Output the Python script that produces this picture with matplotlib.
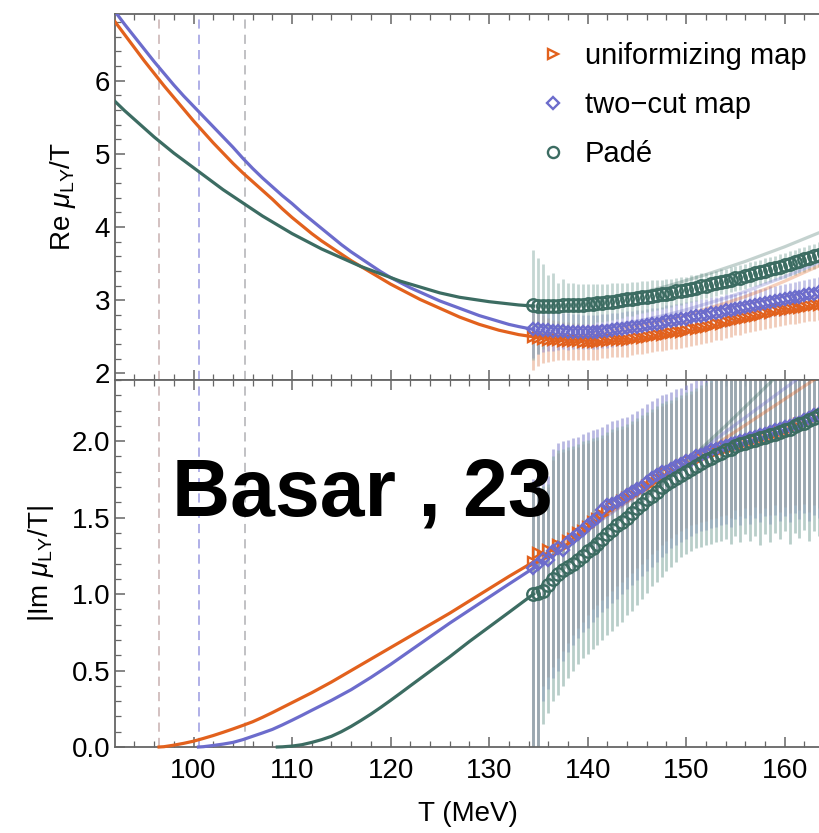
import numpy as np
import matplotlib
matplotlib.use("Agg")
import matplotlib.pyplot as plt
from matplotlib.ticker import MultipleLocator
from matplotlib.lines import Line2D

plt.rcParams['font.family'] = ['Liberation Sans', 'DejaVu Sans']
plt.rcParams['mathtext.fontset'] = 'custom'
plt.rcParams['mathtext.rm'] = 'Liberation Sans'
plt.rcParams['mathtext.it'] = 'Liberation Sans:italic'

# ---------------- data ----------------
# smooth curves (below the data region)
T_re_curve = [92.0, 93, 94, 95, 96, 97, 98, 99, 100, 101, 102, 103, 104, 105, 106, 107, 108, 109, 110,
              111, 112, 113, 114, 115, 116, 117, 118, 119, 120, 121, 122, 123, 124, 125, 126, 127, 128,
              129, 130, 131, 132, 133, 134.5]
re_unif_curve = [6.81, 6.63, 6.45, 6.27, 6.10, 5.93, 5.77, 5.61, 5.45, 5.30, 5.15, 5.01, 4.87, 4.74, 4.62,
                 4.50, 4.38, 4.25, 4.13, 4.02, 3.91, 3.81, 3.72, 3.63, 3.54, 3.46, 3.38, 3.30, 3.22, 3.15,
                 3.08, 3.01, 2.95, 2.89, 2.83, 2.77, 2.72, 2.67, 2.63, 2.59, 2.56, 2.53, 2.50]
re_twocut_curve = [6.95, 6.77, 6.60, 6.43, 6.26, 6.10, 5.94, 5.79, 5.65, 5.51, 5.37, 5.23, 5.09, 4.94, 4.80,
                   4.67, 4.55, 4.43, 4.32, 4.20, 4.09, 3.98, 3.87, 3.76, 3.66, 3.57, 3.48, 3.39, 3.31, 3.24,
                   3.17, 3.11, 3.05, 2.99, 2.94, 2.89, 2.84, 2.79, 2.75, 2.71, 2.67, 2.64, 2.60]
re_pade_curve = [5.72, 5.59, 5.47, 5.35, 5.23, 5.12, 5.01, 4.91, 4.81, 4.71, 4.61, 4.51, 4.42, 4.33, 4.24,
                 4.15, 4.07, 3.99, 3.91, 3.84, 3.77, 3.70, 3.64, 3.58, 3.52, 3.46, 3.41, 3.36, 3.31, 3.26,
                 3.22, 3.18, 3.14, 3.10, 3.07, 3.04, 3.02, 3.00, 2.98, 2.965, 2.95, 2.935, 2.92]

T_im_unif = [96.5, 97, 98, 99, 100, 101, 102, 103, 104, 105, 106, 107, 108, 110, 112, 114, 116, 118, 120,
             122, 124, 126, 128, 130, 132, 134.5]
im_unif_curve = [0.0, 0.002, 0.012, 0.024, 0.038, 0.056, 0.075, 0.096, 0.118, 0.141, 0.165, 0.194, 0.225,
                 0.29, 0.355, 0.425, 0.50, 0.575, 0.65, 0.725, 0.80, 0.875, 0.955, 1.035, 1.115, 1.21]
T_im_twocut = [100.5, 101, 102, 103, 104, 105, 106, 107, 108, 109, 110, 111, 112, 114, 116, 118, 120, 122,
               124, 126, 128, 130, 132, 134.5]
im_twocut_curve = [0.0, 0.002, 0.01, 0.019, 0.03, 0.048, 0.07, 0.092, 0.115, 0.144, 0.175, 0.207, 0.24,
                   0.305, 0.375, 0.455, 0.54, 0.63, 0.72, 0.81, 0.895, 0.98, 1.065, 1.17]
T_im_pade = [108.5, 109, 110, 111, 112, 113, 114, 115, 116, 117, 118, 119, 120, 121, 122, 124, 126, 128,
             130, 132, 134.5]
im_pade_curve = [0.0, 0.001, 0.006, 0.015, 0.03, 0.048, 0.07, 0.10, 0.135, 0.174, 0.215, 0.259, 0.305,
                 0.352, 0.40, 0.495, 0.59, 0.69, 0.785, 0.88, 1.0]

# faint continuations of the curves
T_ext = [134.5, 136, 138, 140, 142, 144, 146, 148, 150, 152, 154, 156, 158, 160, 162, 164]
re_unif_ext = [2.50, 2.49, 2.50, 2.53, 2.57, 2.62, 2.67, 2.73, 2.80, 2.88, 2.96, 3.05, 3.15, 3.26, 3.38, 3.50]
re_twocut_ext = [2.60, 2.59, 2.60, 2.62, 2.65, 2.69, 2.74, 2.80, 2.87, 2.95, 3.03, 3.12, 3.22, 3.32, 3.43, 3.55]
re_pade_ext = [2.92, 2.92, 2.94, 2.97, 3.01, 3.06, 3.12, 3.19, 3.27, 3.35, 3.44, 3.53, 3.63, 3.73, 3.84, 3.95]
T_ext_im = [134.5, 138, 142, 146, 150, 154, 158, 162, 166]
im_unif_ext = [1.21, 1.355, 1.52, 1.685, 1.85, 2.02, 2.19, 2.36, 2.53]
im_twocut_ext = [1.17, 1.33, 1.51, 1.69, 1.87, 2.06, 2.25, 2.44, 2.63]
im_pade_ext = [1.00, 1.19, 1.41, 1.63, 1.86, 2.10, 2.35, 2.60, 2.85]

# data points (T = 134.5 ... 164.0, step 0.5 MeV)
T_pts = np.arange(134.5, 164.01, 0.5)

re_unif = [2.50, 2.48, 2.47, 2.46, 2.45, 2.45, 2.44, 2.44, 2.44, 2.44,
           2.43, 2.43, 2.43, 2.43, 2.44, 2.44, 2.45, 2.45, 2.46, 2.46,
           2.47, 2.48, 2.49, 2.50, 2.51, 2.52, 2.53, 2.54, 2.55, 2.56,
           2.57, 2.58, 2.60, 2.61, 2.62, 2.64, 2.65, 2.67, 2.68, 2.70,
           2.71, 2.73, 2.74, 2.76, 2.77, 2.79, 2.80, 2.82, 2.83, 2.85,
           2.86, 2.87, 2.88, 2.89, 2.90, 2.91, 2.92, 2.93, 2.94, 2.95]
re_unif_err = [0.45, 0.38, 0.33, 0.30, 0.28, 0.27, 0.26, 0.26, 0.25, 0.25,
               0.24, 0.24, 0.24, 0.24, 0.23, 0.23, 0.23, 0.23, 0.23, 0.23,
               0.22, 0.22, 0.22, 0.22, 0.22, 0.22, 0.22, 0.22, 0.22, 0.22,
               0.22, 0.22, 0.22, 0.22, 0.22, 0.22, 0.22, 0.22, 0.22, 0.22,
               0.21, 0.21, 0.21, 0.21, 0.21, 0.21, 0.21, 0.21, 0.21, 0.21,
               0.21, 0.21, 0.21, 0.21, 0.21, 0.21, 0.21, 0.21, 0.21, 0.21]
re_twocut = [2.61, 2.60, 2.59, 2.59, 2.58, 2.58, 2.58, 2.57, 2.57, 2.57,
             2.57, 2.57, 2.57, 2.57, 2.58, 2.58, 2.59, 2.60, 2.61, 2.62,
             2.63, 2.64, 2.65, 2.66, 2.67, 2.68, 2.69, 2.71, 2.72, 2.73,
             2.74, 2.75, 2.77, 2.78, 2.79, 2.80, 2.82, 2.83, 2.84, 2.86,
             2.87, 2.88, 2.90, 2.91, 2.92, 2.94, 2.95, 2.96, 2.98, 2.99,
             3.00, 3.01, 3.03, 3.04, 3.05, 3.07, 3.08, 3.09, 3.11, 3.12]
re_twocut_err = [0.40, 0.33, 0.30, 0.28, 0.27, 0.26, 0.25, 0.25, 0.24, 0.24,
                 0.23, 0.23, 0.23, 0.23, 0.23, 0.23, 0.23, 0.23, 0.23, 0.23,
                 0.22, 0.22, 0.22, 0.22, 0.22, 0.22, 0.22, 0.22, 0.22, 0.22,
                 0.22, 0.22, 0.22, 0.22, 0.22, 0.22, 0.22, 0.22, 0.22, 0.22,
                 0.21, 0.21, 0.21, 0.21, 0.21, 0.21, 0.21, 0.21, 0.21, 0.21,
                 0.21, 0.21, 0.21, 0.21, 0.21, 0.21, 0.21, 0.21, 0.21, 0.21]
re_pade = [2.93, 2.92, 2.92, 2.92, 2.92, 2.92, 2.93, 2.93, 2.93, 2.94,
           2.94, 2.95, 2.95, 2.96, 2.96, 2.97, 2.98, 2.99, 3.00, 3.01,
           3.02, 3.03, 3.04, 3.05, 3.06, 3.07, 3.08, 3.09, 3.10, 3.12,
           3.13, 3.14, 3.16, 3.17, 3.19, 3.20, 3.22, 3.23, 3.25, 3.26,
           3.28, 3.30, 3.31, 3.33, 3.35, 3.37, 3.38, 3.40, 3.42, 3.44,
           3.46, 3.48, 3.50, 3.52, 3.54, 3.56, 3.58, 3.60, 3.62, 3.64]
re_pade_err = [0.75, 0.65, 0.58, 0.42, 0.45, 0.32, 0.36, 0.30, 0.30, 0.28,
               0.28, 0.27, 0.27, 0.26, 0.26, 0.25, 0.25, 0.24, 0.24, 0.23,
               0.23, 0.22, 0.22, 0.21, 0.21, 0.20, 0.20, 0.20, 0.19, 0.19,
               0.19, 0.18, 0.18, 0.18, 0.18, 0.17, 0.17, 0.17, 0.17, 0.17,
               0.17, 0.17, 0.17, 0.17, 0.17, 0.17, 0.17, 0.17, 0.17, 0.17,
               0.17, 0.17, 0.17, 0.17, 0.17, 0.17, 0.17, 0.17, 0.17, 0.17]

im_unif = [1.21, 1.27, 1.24, 1.29, 1.27, 1.32, 1.31, 1.35, 1.36, 1.40,
           1.41, 1.44, 1.47, 1.49, 1.52, 1.55, 1.57, 1.59, 1.61, 1.63,
           1.65, 1.67, 1.69, 1.71, 1.73, 1.75, 1.77, 1.79, 1.80, 1.82,
           1.84, 1.85, 1.87, 1.88, 1.89, 1.91, 1.92, 1.93, 1.94, 1.95,
           1.96, 1.97, 1.98, 1.99, 2.00, 2.01, 2.02, 2.03, 2.04, 2.05,
           2.06, 2.07, 2.08, 2.10, 2.11, 2.12, 2.14, 2.15, 2.17, 2.18]
im_twocut = [1.17, 1.20, 1.23, 1.22, 1.28, 1.30, 1.29, 1.34, 1.37, 1.39,
             1.42, 1.45, 1.48, 1.50, 1.55, 1.58, 1.59, 1.60, 1.62, 1.65,
             1.67, 1.69, 1.70, 1.73, 1.76, 1.78, 1.80, 1.80, 1.82, 1.84,
             1.85, 1.87, 1.88, 1.90, 1.91, 1.92, 1.94, 1.95, 1.96, 1.97,
             1.98, 1.99, 2.00, 2.01, 2.02, 2.03, 2.04, 2.05, 2.06, 2.07,
             2.08, 2.09, 2.10, 2.11, 2.12, 2.14, 2.15, 2.17, 2.18, 2.19]
im_pade = [1.00, 1.01, 1.02, 1.06, 1.10, 1.13, 1.16, 1.18, 1.20, 1.22,
           1.25, 1.28, 1.30, 1.33, 1.36, 1.39, 1.42, 1.45, 1.47, 1.50,
           1.53, 1.56, 1.59, 1.62, 1.64, 1.67, 1.70, 1.72, 1.74, 1.76,
           1.78, 1.80, 1.82, 1.84, 1.86, 1.88, 1.89, 1.91, 1.92, 1.94,
           1.95, 1.97, 1.98, 1.99, 2.00, 2.01, 2.02, 2.03, 2.04, 2.05,
           2.06, 2.07, 2.08, 2.10, 2.11, 2.12, 2.14, 2.15, 2.17, 2.18]

im_unif_lo = [0.00, 0.00, 0.40, 0.46, 0.52, 0.58, 0.63, 0.68, 0.73, 0.78,
              0.82, 0.86, 0.90, 0.93, 0.96, 0.99, 1.02, 1.05, 1.08, 1.11,
              1.14, 1.17, 1.20, 1.23, 1.26, 1.29, 1.32, 1.35, 1.37, 1.39,
              1.41, 1.43, 1.45, 1.46, 1.47, 1.48, 1.49, 1.50, 1.51, 1.52,
              1.50, 1.55, 1.51, 1.56, 1.52, 1.57, 1.53, 1.56, 1.52, 1.58,
              1.54, 1.57, 1.53, 1.58, 1.55, 1.59, 1.54, 1.58, 1.56, 1.60]
im_unif_hi = [1.68, 1.68, 1.69, 1.70, 1.88, 1.92, 1.93, 1.94, 1.95, 1.96,
              1.98, 1.99, 2.00, 2.01, 2.02, 2.04, 2.06, 2.07, 2.08, 2.09,
              2.11, 2.13, 2.15, 2.17, 2.19, 2.21, 2.23, 2.24, 2.25, 2.27,
              2.28, 2.30, 2.31, 2.33, 2.35, 2.37, 2.39, 2.41, 2.43, 2.45,
              2.50, 2.50, 2.50, 2.50, 2.50, 2.50, 2.50, 2.50, 2.50, 2.50,
              2.50, 2.50, 2.50, 2.50, 2.50, 2.50, 2.50, 2.50, 2.50, 2.50]
im_twocut_lo = [0.00, 0.00, 0.30, 0.38, 0.45, 0.50, 0.56, 0.62, 0.67, 0.71,
                0.75, 0.78, 0.82, 0.85, 0.88, 0.91, 0.94, 0.97, 1.00, 1.03,
                1.06, 1.09, 1.12, 1.15, 1.18, 1.21, 1.24, 1.27, 1.30, 1.32,
                1.34, 1.36, 1.38, 1.40, 1.41, 1.42, 1.43, 1.44, 1.45, 1.46,
                1.44, 1.49, 1.45, 1.50, 1.46, 1.50, 1.47, 1.51, 1.46, 1.52,
                1.48, 1.51, 1.47, 1.53, 1.49, 1.53, 1.48, 1.52, 1.50, 1.54]
im_twocut_hi = [1.75, 1.75, 1.76, 1.77, 1.95, 1.99, 2.00, 2.01, 2.02, 2.03,
                2.05, 2.06, 2.07, 2.08, 2.09, 2.11, 2.13, 2.14, 2.15, 2.16,
                2.18, 2.20, 2.22, 2.24, 2.26, 2.28, 2.30, 2.31, 2.32, 2.34,
                2.35, 2.37, 2.38, 2.40, 2.42, 2.44, 2.46, 2.48, 2.50, 2.52,
                2.55, 2.55, 2.55, 2.55, 2.55, 2.55, 2.55, 2.55, 2.55, 2.55,
                2.55, 2.55, 2.55, 2.55, 2.55, 2.55, 2.55, 2.55, 2.55, 2.55]
im_pade_lo = [0.00, 0.00, 0.15, 0.22, 0.30, 0.34, 0.40, 0.45, 0.50, 0.54,
              0.58, 0.61, 0.64, 0.67, 0.70, 0.73, 0.76, 0.79, 0.82, 0.86,
              0.89, 0.93, 0.97, 1.01, 1.05, 1.08, 1.11, 1.15, 1.18, 1.21,
              1.24, 1.26, 1.28, 1.30, 1.31, 1.32, 1.33, 1.34, 1.35, 1.36,
              1.33, 1.38, 1.34, 1.39, 1.35, 1.38, 1.32, 1.39, 1.34, 1.40,
              1.36, 1.41, 1.33, 1.40, 1.37, 1.42, 1.35, 1.41, 1.38, 1.43]
im_pade_hi = [1.70, 1.70, 1.71, 1.72, 1.90, 1.94, 1.95, 1.96, 1.97, 1.98,
              2.00, 2.01, 2.02, 2.03, 2.04, 2.06, 2.08, 2.09, 2.10, 2.11,
              2.13, 2.15, 2.17, 2.19, 2.21, 2.23, 2.25, 2.26, 2.27, 2.29,
              2.30, 2.32, 2.33, 2.35, 2.37, 2.39, 2.41, 2.43, 2.45, 2.47,
              2.50, 2.50, 2.50, 2.50, 2.50, 2.50, 2.50, 2.50, 2.50, 2.50,
              2.50, 2.50, 2.50, 2.50, 2.50, 2.50, 2.50, 2.50, 2.50, 2.50]

T_dashed = [96.54, 100.51, 105.26]
dashed_colors = ['#c8b0b0', '#9a9ae0', '#b0b0b4']

labels = ['uniformizing map', 'two\u2212cut map', 'Pad\u00e9']
c_unif, c_two, c_pade = '#e2611d', '#6c6ccc', '#3c6c62'
bar_unif, bar_two, bar_pade = '#e49a76', '#8a8ad0', '#8aaea6'

# ---------------- figure ----------------
W, H = 820, 833
fig = plt.figure(figsize=(W / 100, H / 100), dpi=100)
left = 115 / W
ax1 = fig.add_axes([left, 1 - 380 / H, 1 - left + 0.002, (380 - 14) / H])
ax2 = fig.add_axes([left, 1 - 747 / H, 1 - left + 0.002, (747 - 380) / H], sharex=ax1)

spine_c = '#666666'
for ax in (ax1, ax2):
    for s in ('left', 'top', 'bottom'):
        ax.spines[s].set_color(spine_c)
        ax.spines[s].set_linewidth(1.3)
    ax.spines['right'].set_visible(False)
    ax.tick_params(which='both', direction='in', top=True, bottom=True, left=True, right=False,
                   color=spine_c, labelsize=20)
    ax.tick_params(which='major', length=7, width=1.1)
    ax.tick_params(which='minor', length=4, width=0.9)
    ax.xaxis.set_major_locator(MultipleLocator(10))
    ax.xaxis.set_minor_locator(MultipleLocator(2))
    for Td, cd in zip(T_dashed, dashed_colors):
        ax.axvline(Td, color=cd, lw=1.1, dashes=(6, 4), zorder=1)

ax1.set_xlim(92.03, 163.75)
ax1.set_ylim(1.91, 6.91)
ax2.set_ylim(0.0, 2.40)
ax1.yaxis.set_major_locator(MultipleLocator(1))
ax1.yaxis.set_minor_locator(MultipleLocator(0.2))
ax2.yaxis.set_major_locator(MultipleLocator(0.5))
ax2.yaxis.set_minor_locator(MultipleLocator(0.1))
ax2.yaxis.set_major_formatter(matplotlib.ticker.FormatStrFormatter('%.1f'))
ax1.tick_params(labelbottom=False)
ax2.tick_params(axis='x', pad=8)

lw = 2.3
# ---- top panel ----
for vals, errs, bc in ((re_unif, re_unif_err, bar_unif), (re_twocut, re_twocut_err, bar_two),
                       (re_pade, re_pade_err, bar_pade)):
    v = np.array(vals); e = np.array(errs)
    ax1.vlines(T_pts, v - e, v + e, colors=bc, alpha=0.5, lw=2.0, zorder=2)
for ext, c in ((re_unif_ext, c_unif), (re_twocut_ext, c_two), (re_pade_ext, c_pade)):
    ax1.plot(T_ext, ext, color=c, lw=lw, alpha=0.3, zorder=3)
ax1.plot(T_re_curve, re_unif_curve, color=c_unif, lw=lw, zorder=4)
ax1.plot(T_re_curve, re_twocut_curve, color=c_two, lw=lw, zorder=4)
ax1.plot(T_re_curve, re_pade_curve, color=c_pade, lw=lw, zorder=4)
ax1.plot(T_pts, re_unif, ls='none', marker='>', ms=7, mfc='none', mec=c_unif, mew=1.7, zorder=5)
ax1.plot(T_pts, re_twocut, ls='none', marker='D', ms=6, mfc='none', mec=c_two, mew=1.7, zorder=5)
ax1.plot(T_pts, re_pade, ls='none', marker='o', ms=9, mfc='none', mec=c_pade, mew=1.7, zorder=6)

# ---- bottom panel ----
for lo, hi, bc in ((im_unif_lo, im_unif_hi, bar_unif), (im_twocut_lo, im_twocut_hi, bar_two),
                   (im_pade_lo, im_pade_hi, bar_pade)):
    ax2.vlines(T_pts, lo, hi, colors=bc, alpha=0.6, lw=2.0, zorder=2)
ax2.plot(T_ext_im, im_unif_ext, color=c_unif, lw=lw, alpha=0.35, zorder=3)
ax2.plot(T_ext_im, im_twocut_ext, color=c_two, lw=lw, alpha=0.35, zorder=3)
ax2.plot(T_ext_im, im_pade_ext, color=c_pade, lw=lw, alpha=0.35, zorder=3)
ax2.plot(T_im_unif, im_unif_curve, color=c_unif, lw=lw, zorder=4, clip_on=False)
ax2.plot(T_im_twocut, im_twocut_curve, color=c_two, lw=lw, zorder=4, clip_on=False)
ax2.plot(T_im_pade, im_pade_curve, color=c_pade, lw=lw, zorder=4, clip_on=False)
ax2.plot(T_pts, im_unif, ls='none', marker='>', ms=7, mfc='none', mec=c_unif, mew=1.7, zorder=5)
ax2.plot(T_pts, im_twocut, ls='none', marker='D', ms=6, mfc='none', mec=c_two, mew=1.7, zorder=5)
ax2.plot(T_pts, im_pade, ls='none', marker='o', ms=9, mfc='none', mec=c_pade, mew=1.7, zorder=6)

# labels
ax1.set_ylabel(r'Re $\mu_{\mathrm{LY}}$/T', fontsize=20)
ax2.set_ylabel(r'|Im $\mu_{\mathrm{LY}}$/T|', fontsize=20)
ax2.set_xlabel('T (MeV)', fontsize=20, labelpad=12)
ax1.yaxis.set_label_coords(-0.052, 0.5)
ax2.yaxis.set_label_coords(-0.083, 0.5)

# legend
handles = [Line2D([], [], ls='none', marker='>', ms=7, mfc='none', mec=c_unif, mew=1.7),
           Line2D([], [], ls='none', marker='D', ms=6, mfc='none', mec=c_two, mew=1.7),
           Line2D([], [], ls='none', marker='o', ms=8, mfc='none', mec=c_pade, mew=1.7)]
ax1.legend(handles, labels, loc='upper left', bbox_to_anchor=((537 - 115) / (W - 115), 1 - 28 / 366),
           frameon=False, fontsize=21, handlelength=1.0, handletextpad=0.6, labelspacing=0.72,
           borderaxespad=0, borderpad=0)

fig.text(172 / W, 1 - 515 / H, 'Basar , 23', fontsize=58, fontweight='bold', color='black',
         ha='left', va='baseline', zorder=20)

fig.savefig('out.png', dpi=100)
